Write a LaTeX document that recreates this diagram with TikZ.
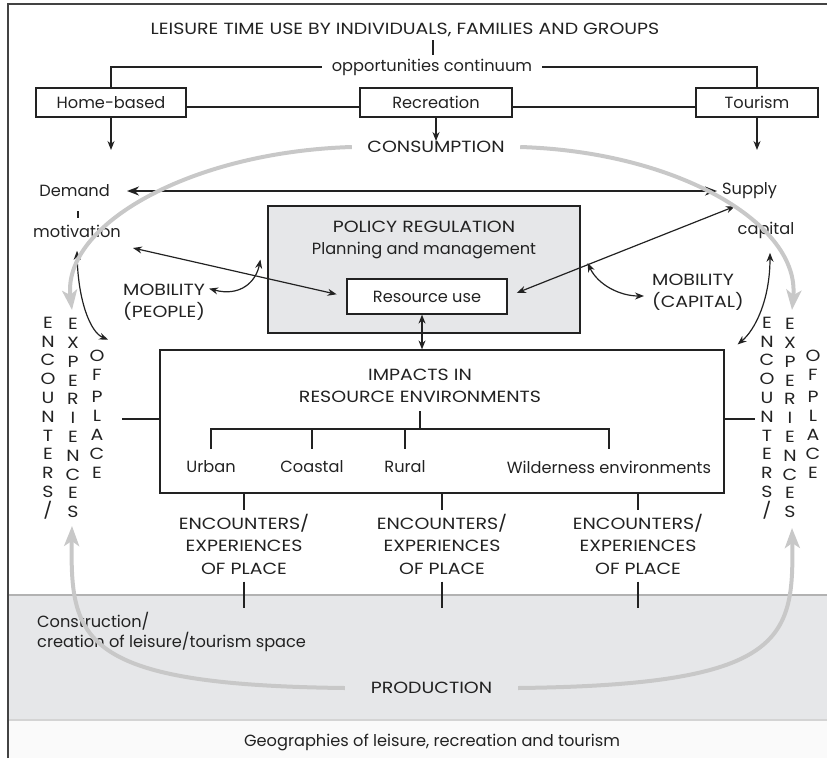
\documentclass[tikz,border=0pt]{standalone}
\usepackage{fontspec}
\setmainfont{Poppins}
\newfontfamily\capsfont[FakeStretch=1.17]{Poppins}
\usetikzlibrary{arrows.meta,calc}
\definecolor{ink}{HTML}{222222}
\definecolor{bandgray}{HTML}{E6E7E9}
\definecolor{loopgray}{HTML}{C8C8C8}
\begin{document}
\begin{tikzpicture}[x=1pt,y=-1pt,
  every node/.style={font=\fontsize{16.2}{18}\selectfont, text=ink},
  caps/.style={font=\capsfont\fontsize{16.2}{18}\selectfont},
  box/.style={draw=ink, line width=1.2pt, minimum height=29pt, inner sep=0pt},
  conn/.style={draw=ink, line width=1.2pt},
  arr/.style={conn, -{Stealth[length=9pt,width=7pt]}},
  darr/.style={conn, {Stealth[length=9pt,width=7pt]}-{Stealth[length=9pt,width=7pt]}},
  loopar/.style={draw=loopgray, line width=4pt, -{Stealth[length=20pt,width=15pt,inset=5pt]}},
  vtext/.style={align=center, font=\capsfont\fontsize{16.2}{18.8}\selectfont, inner sep=0pt},
  enc/.style={align=center, font=\capsfont\fontsize{16.2}{22.5}\selectfont},
]
\useasboundingbox (0,0) rectangle (827,758);
% bands and frame
\fill[bandgray] (8,595) rectangle (827,720);
\draw[draw=black!30, line width=2pt] (8,595) -- (827,595);
\fill[black!2] (8,720) rectangle (827,758);
\draw[draw=black!17, line width=1.5pt] (8,720) -- (827,720);
\draw[draw=ink!85, line width=1.5pt] (8,758) -- (8,4) -- (827,4);

% top
\node[caps] (title) at (405,30) {LEISURE TIME USE BY INDIVIDUALS, FAMILIES AND GROUPS};
\node[inner xsep=10pt] (opp) at (432,67) {opportunities continuum};
\draw[draw=ink, line width=2pt] (title.south -| 433,0) -- (opp.north -| 433,0);
\node[box, minimum width=150pt] (home) at (111,102.5) {Home-based};
\node[box, minimum width=152pt] (rec) at (436,102.5) {Recreation};
\node[box, minimum width=122pt] (tour) at (757,102.5) {Tourism};
\draw[conn] (opp.west) -| (home.north);
\draw[conn] (opp.east) -| (tour.north);
\draw[conn] ([yshift=-4.5pt]home.east) -- ([yshift=-4.5pt]rec.west);
\draw[conn] ([yshift=-4.5pt]rec.east) -- ([yshift=-4.5pt]tour.west);
\node[caps, minimum width=168pt, inner sep=0pt] (cons) at (436,147) {CONSUMPTION};
\coordinate (hbend) at (111,150);
\coordinate (tbend) at (757,150);
\draw[arr] (home.south) -- (hbend);
\draw[arr] (tour.south) -- (tbend);
\draw[arr] (rec.south) -- (rec.south |- cons.north);

% demand / supply
\node[anchor=east, inner sep=0pt] (dem) at (110,191) {Demand};
\node[anchor=west, inner sep=0pt] (sup) at (722,191) {Supply};
\node (mot) at (77,231) {motivation};
\node (capi) at (766,230) {capital};
\draw[conn] (78,211) -- (78,218);
\draw[conn, line width=2pt, {Stealth[length=12pt,width=9pt]}-{Stealth[length=12pt,width=9pt]}] ($(dem.east)+(17,0)$) -- ($(sup.west)+(-5,0)$);

% policy
\node[draw=ink, fill=bandgray, line width=1.2pt, minimum width=312pt, minimum height=127pt, inner sep=0pt] (pol) at (424,269.5) {};
\node[caps] (polt) at (424,227) {POLICY REGULATION};
\node (plan) at (424,251) {Planning and management};
\node[draw=ink, fill=white, line width=1.2pt, minimum width=160pt, minimum height=35pt, inner sep=0pt] (res) at (427,296.5) {Resource use};

\node[anchor=west, align=left, font=\capsfont\fontsize{16.2}{22}\selectfont, inner sep=0pt] (mobp) at (123,302) {MOBILITY\\(PEOPLE)};
\node[anchor=west, align=left, font=\capsfont\fontsize{16.2}{22}\selectfont, inner sep=0pt] (mobc) at (652,292) {MOBILITY\\(CAPITAL)};

% impacts
\node[draw=ink, line width=1.2pt, minimum width=564pt, minimum height=143pt, inner sep=0pt] (imp) at (442,421.5) {};
\node[caps] (impt) at (420,375) {IMPACTS IN};
\node[caps] (impr) at (420,397) {RESOURCE ENVIRONMENTS};
\draw[darr] (res.south -| 422,0) -- (imp.north -| 422,0);
\draw[conn] (420,411) -- (420,429);
\draw[conn] (211,449) -- (211,429) -- (609,429) -- (609,449);
\draw[conn] (312,429) -- (312,449);
\draw[conn] (405,429) -- (405,449);
\node (urb) at (211,467) {Urban};
\node (coa) at (312,467) {Coastal};
\node (rur) at (405,467) {Rural};
\node (wil) at (609,467) {Wilderness environments};

% encounters below
\foreach \n/\x in {e1/244,e2/442,e3/638}{
  \node[enc] (\n) at (\x,544) {ENCOUNTERS/\\EXPERIENCES\\OF PLACE};
  \coordinate (\n b) at (\x,608);
  \draw[conn] (imp.south -| \n) -- (\n.north);
  \draw[conn] ([yshift=-4pt]\n.south) -- (\n b);
}

% vertical texts
\node[vtext] (lenc) at (48,418) {E\\N\\C\\O\\U\\N\\T\\E\\R\\S\\/};
\node[vtext] (lexp) at (73,418) {E\\X\\P\\E\\R\\I\\E\\N\\C\\E\\S};
\node[vtext] (lof) at (97,414) {O\\F\\[4pt]P\\L\\A\\C\\E};
\node[vtext] (renc) at (767,418) {E\\N\\C\\O\\U\\N\\T\\E\\R\\S\\/};
\node[vtext] (rexp) at (790,418) {E\\X\\P\\E\\R\\I\\E\\N\\C\\E\\S};
\node[vtext] (rof) at (813,414) {O\\F\\[4pt]P\\L\\A\\C\\E};
\coordinate (lside) at (122,419);
\coordinate (rside) at (755,419);
\draw[conn] (lside) -- (imp.west |- lside);
\draw[conn] (imp.east |- rside) -- (rside);

% black curved / straight arrows
\draw[darr] ($(mot.south)+(0,10)$) .. controls (78,300) and (90,332) .. ($(lof.north)+(11,-10)$);
\draw[darr] ($(capi.south)+(4,11)$) .. controls (770,300) and (755,330) .. ($(imp.north east)+(13,-5)$);
\draw[darr] ($(mobp.north east)+(4,5)$) .. controls (240,297) and (256,282) .. ($(pol.west)+(-7,-10)$);
\draw[darr] ($(pol.east)+(7,-6.5)$) .. controls (598,285) and (620,296) .. ($(mobc.west)+(-8,4)$);
\draw[darr, shorten >=10pt] (133,248) -- (res.west);
\draw[darr, shorten <=10pt] (res.east) -- ($(sup.south west)+(13,7)$);

% production
\node[anchor=west, align=left, font=\fontsize{16.2}{20}\selectfont, inner sep=0pt] (constr) at (37,632) {Construction/\\creation of leisure/tourism space};
\node[caps, minimum width=173pt, inner sep=0pt] (prod) at (431.5,688) {PRODUCTION};
\node (geo) at (432,742) {Geographies of leisure, recreation and tourism};

% grey cycle arrows
\coordinate (tlend) at (72,310);
\coordinate (trend) at (792,310);
\coordinate (blend) at (72,526);
\coordinate (brend) at (792,528);
\draw[loopar] (cons.west) .. controls (190,152) and (62,225) .. (tlend);
\draw[loopar] (cons.east) .. controls (680,152) and (800,225) .. (trend);
\draw[loopar] (prod.west) .. controls (80,685) and (70,640) .. (blend);
\draw[loopar] (prod.east) .. controls (784,685) and (794,640) .. (brend);
\end{tikzpicture}
\end{document}
